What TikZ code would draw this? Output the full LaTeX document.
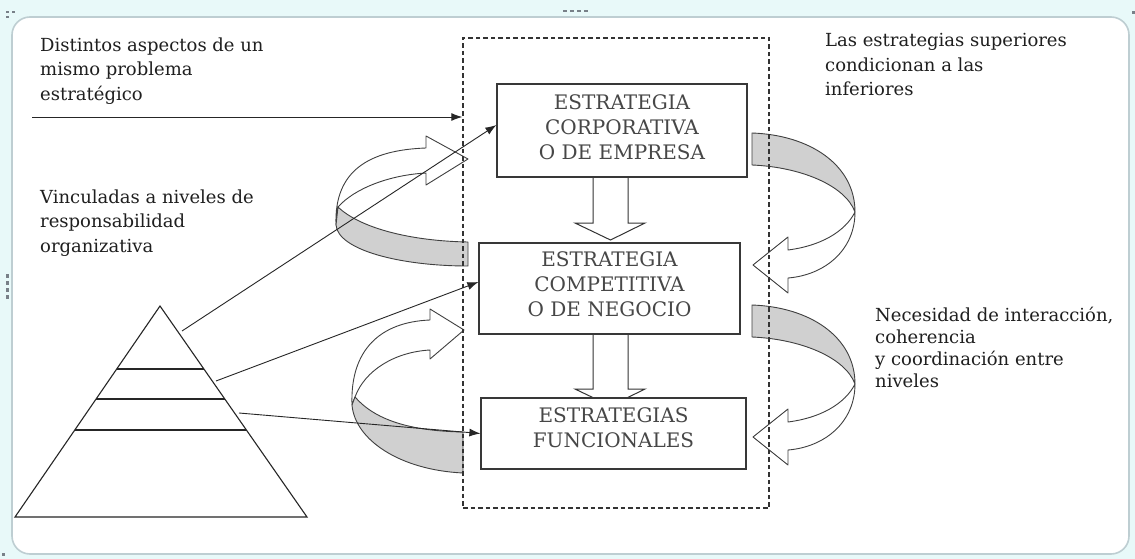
\documentclass[tikz,border=0pt]{standalone}
\usepackage{fontspec}
\newfontfamily\dvs{DejaVu Serif}
\usetikzlibrary{arrows.meta,calc}
\definecolor{bgc}{RGB}{232,249,249}
\definecolor{framec}{RGB}{190,206,210}
\definecolor{bandgray}{RGB}{208,208,208}
\definecolor{handle}{RGB}{120,128,136}
\begin{document}
\begin{tikzpicture}[x=1pt,y=-1pt,
  sidetext/.style={anchor=north west,inner sep=0pt,align=left,text=black!88,font=\dvs\fontsize{18}{24.5}\selectfont},
  stratbox/.style={draw=black!78,line width=1.2pt,fill=white,align=center,text=black!72,font=\dvs\fontsize{20}{25}\selectfont,inner sep=0pt},
  conn/.style={draw=black!85,line width=0.9pt,-{Latex[length=11pt,width=8pt]}},
  blockarrow/.style={draw=black!80,line width=1pt,fill=white,line join=miter},
  bandwhite/.style={draw=black!75,line width=0.9pt,fill=white,line join=round},
  bandgrey/.style={draw=black!75,line width=0.9pt,fill=bandgray,line join=round},
  pyr/.style={draw=black!85,line width=1.1pt},
  handlemark/.style={fill=handle}
]
\fill[bgc] (0,0) rectangle (1135,559);
\useasboundingbox (0,0) rectangle (1135,559);
\draw[framec,line width=1.6pt,fill=white,rounded corners=18pt] (12,17) rectangle (1129,554);

% selection handles
\foreach \hx/\hy in {6/11,12/11,6/16} \fill[handlemark] (\hx,\hy) rectangle +(2.5,2.5);
\foreach \hx in {563,570,577,584} \fill[handlemark] (\hx,10) rectangle +(4,2.5);
\foreach \hy in {274,281,288,295} \fill[handlemark] (6,\hy) rectangle +(2.5,4);
\fill[handlemark] (2,553) rectangle +(2.5,3);
\fill[handlemark] (1132,11) rectangle +(2.5,3);

% left curved arrows
\draw[bandwhite] (336,225) .. controls (334,170) and (370,150) .. (426,148) -- (426,136) -- (468,159) -- (426,185) -- (426,173) .. controls (390,175) and (355,188) .. (338,207) -- cycle;
\draw[bandgrey] (338,207) .. controls (360,228) and (410,241) .. (468,242) -- (468,266) .. controls (400,266) and (338,250) .. (336,225) -- cycle;
\draw[bandwhite] (352,405) .. controls (350,350) and (380,322) .. (430,320) -- (430,309) -- (464,330) -- (430,359) -- (430,350) .. controls (395,352) and (365,370) .. (355,397) -- cycle;
\draw[bandgrey] (355,397) .. controls (375,420) and (410,431) .. (463,432) -- (463,473) .. controls (400,470) and (355,440) .. (352,405) -- cycle;

% right curved arrows
\foreach \dy in {0,172}{
\begin{scope}[shift={(0,\dy)}]
\draw[bandgrey] (752,133) .. controls (810,135) and (855,165) .. (855,212) .. controls (845,185) and (800,167) .. (752,165) -- cycle;
\draw[bandwhite] (855,212) .. controls (855,250) and (825,275) .. (788,278) -- (788,293) -- (753,265) -- (788,237) -- (788,250) .. controls (820,246) and (845,232) .. (855,212) -- cycle;
\end{scope}}

% dashed grouping frame
\node[draw=black!80,line width=1.4pt,dash pattern=on 4.5pt off 3pt,minimum width=306pt,minimum height=470pt,inner sep=0pt] (scopebox) at (616,273) {};

% block arrows
\draw[blockarrow] (593,177) -- (628,177) -- (628,223) -- (645,223) -- (610.5,240) -- (575,223) -- (593,223) -- cycle;
\draw[blockarrow] (593,334) -- (628,334) -- (628,389) -- (645,389) -- (610.5,406) -- (575,389) -- (593,389) -- cycle;

% boxes
\node[stratbox,minimum width=250pt,minimum height=93pt,text depth=6.4pt] (b1) at (622,130.5) {ESTRATEGIA\\CORPORATIVA\\O DE EMPRESA};
\node[stratbox,minimum width=261pt,minimum height=91pt,text depth=8.4pt] (b2) at (609.5,288.5) {ESTRATEGIA\\COMPETITIVA\\O DE NEGOCIO};
\node[stratbox,minimum width=265pt,minimum height=71pt,text depth=11.4pt] (b3) at (613.5,433.5) {ESTRATEGIAS\\FUNCIONALES};

% side texts
\node[sidetext] (t1) at (40,37.3) {Distintos aspectos de un\\mismo problema\\estratégico};
\node[sidetext] (t2) at (40,189.3) {Vinculadas a niveles de\\responsabilidad\\organizativa};
\node[sidetext] (t3) at (825,33.3) {Las estrategias superiores\\condicionan a las\\inferiores};
\node[sidetext,font=\dvs\fontsize{18}{22}\selectfont] (t4) at (875,307.3) {Necesidad de interacción,\\coherencia\\y coordinación entre\\niveles};

% pyramid
\coordinate (apex) at (160,306);
\coordinate (bl) at (15,517);
\coordinate (br) at (307,517);
\draw[pyr] (apex) -- (br) -- (bl) -- cycle;
\foreach \t in {0.2986,0.4408,0.5877} \draw[pyr] ($(apex)!\t!(bl)$) -- ($(apex)!\t!(br)$);

% connectors
\coordinate (h0) at (32,117);
\draw[conn] (h0) -- (h0 -| scopebox.west);
\coordinate (p1) at (182,331);
\coordinate (p2) at (216,381);
\coordinate (p3) at (239,413);
\draw[conn] (p1) -- ([yshift=5.5pt]b1.west);
\draw[conn] (p2) -- ([yshift=6.5pt]b2.west);
\draw[conn] (p3) -- (b3.west);
\end{tikzpicture}
\end{document}
